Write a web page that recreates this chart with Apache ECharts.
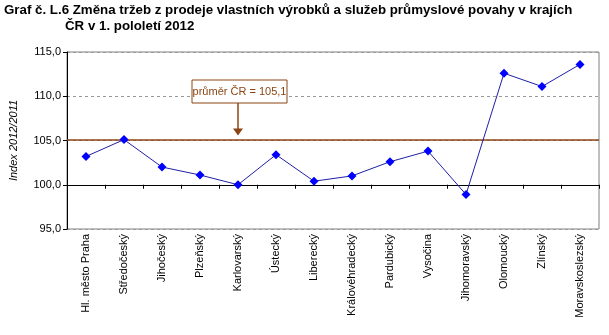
<!DOCTYPE html>
<html>
<head>
<meta charset="utf-8">
<script src="https://cdn.jsdelivr.net/npm/echarts@6/dist/echarts.min.js"></script>
<style>
  html, body { margin: 0; padding: 0; background: #fff; }
  #chart { width: 609px; height: 335px; }
</style>
</head>
<body>
<div id="chart"></div>
<script>
// Regions of the Czech Republic
const regions = [
  'Hl. město Praha', 'Středočeský', 'Jihočeský', 'Plzeňský', 'Karlovarský',
  'Ústecký', 'Liberecký', 'Královéhradecký', 'Pardubický', 'Vysočina',
  'Jihomoravský', 'Olomoucký', 'Zlínský', 'Moravskoslezský'
];
// Index of revenues 2012/2011
const indexValues = [103.2, 105.1, 102.0, 101.1, 100.0, 103.4, 100.4, 101.0, 102.6, 103.8, 98.9, 112.6, 111.1, 113.6];
// Country average
const averageCR = 105.1;
const averageLabel = 'průměr ČR = 105,1';
const averageArrowCategory = 'Karlovarský';
// Value axis
const yMin = 95, yMax = 115, yStep = 5, axisBase = 100;
// Title lines
const titleLine1 = 'Graf č. L.6 Změna tržeb z prodeje vlastních výrobků a služeb průmyslové povahy v krajích';
const titleLine2 = 'ČR v 1. pololetí 2012';

const FONT = '"Liberation Sans", Arial, sans-serif';
const gridTop = 52, gridBottom = 106, gridLeft = 67, gridRight = 10;
const gridH = 335 - gridTop - gridBottom;
const axisOffset = gridH * (axisBase - yMin) / (yMax - yMin);

const titleStyle = {
  fontFamily: '"Liberation Sans Narrow", "Arial Narrow", "Liberation Sans", sans-serif',
  fontWeight: 'bold', fontSize: 13.3, color: '#000'
};

const chart = echarts.init(document.getElementById('chart'), null, { renderer: 'canvas' });

const option = {
  animation: false,
  backgroundColor: '#fff',
  title: [
    { text: titleLine1, left: 4, top: 4, padding: 0, textStyle: titleStyle },
    { text: titleLine2, left: 65, top: 20, padding: 0, textStyle: titleStyle }
  ],
  grid: {
    left: gridLeft, right: gridRight, top: gridTop, bottom: gridBottom,
    show: true, borderColor: '#808080', borderWidth: 1, backgroundColor: '#fff'
  },
  xAxis: {
    type: 'category',
    data: regions,
    boundaryGap: true,
    position: 'bottom',
    offset: -axisOffset,
    axisLine: { show: true, onZero: false, lineStyle: { color: '#000', width: 1 } },
    axisTick: { show: true, length: 4, inside: false, lineStyle: { color: '#000' } },
    axisLabel: {
      rotate: 90, interval: 0, margin: axisOffset + 5,
      fontFamily: FONT, fontSize: 11, color: '#000'
    }
  },
  yAxis: {
    type: 'value',
    min: yMin, max: yMax, interval: yStep,
    name: 'Index 2012/2011',
    nameLocation: 'middle',
    nameGap: 48,
    nameTextStyle: { fontFamily: FONT, fontSize: 11, fontStyle: 'italic', color: '#000' },
    axisLine: { show: true, lineStyle: { color: '#000' } },
    axisTick: { show: true, length: 4, lineStyle: { color: '#000' } },
    axisLabel: {
      fontFamily: FONT, fontSize: 11, color: '#000', margin: 6,
      formatter: v => v.toFixed(1).replace('.', ',')
    },
    splitLine: {
      show: true,
      lineStyle: { color: '#999', type: [3, 3], width: 1 }
    }
  },
  series: [{
    type: 'line',
    data: indexValues,
    symbol: 'diamond',
    symbolSize: 9,
    showAllSymbol: true,
    lineStyle: { color: '#1f1fa8', width: 1 },
    itemStyle: { color: '#0000ff' },
    z: 5,
    markLine: {
      silent: true,
      symbol: 'none',
      label: { show: false },
      lineStyle: { color: '#8b4513', type: 'solid', width: 1.5 },
      data: [{ yAxis: averageCR }],
      z: 3
    }
  }]
};
chart.setOption(option);

// Annotation box with arrow pointing to the average line
const arrowIdx = regions.indexOf(averageArrowCategory);
const tip = chart.convertToPixel({ seriesIndex: 0 }, [arrowIdx, averageCR]);
const boxW = 95, boxH = 23;
const boxX = tip[0] - 46, boxY = 80;
chart.setOption({
  graphic: [
    {
      type: 'rect', z: 20,
      shape: { x: boxX, y: boxY, width: boxW, height: boxH },
      style: { fill: '#fff', stroke: '#8b4513', lineWidth: 1 }
    },
    {
      type: 'text', z: 21,
      x: boxX + boxW / 2, y: boxY + boxH / 2,
      style: {
        text: averageLabel, fill: '#8b4513', font: '11px "Liberation Sans", Arial, sans-serif',
        align: 'center', verticalAlign: 'middle'
      }
    },
    {
      type: 'line', z: 20,
      shape: { x1: tip[0], y1: boxY + boxH, x2: tip[0], y2: tip[1] - 10 },
      style: { stroke: '#8b4513', lineWidth: 1.5 }
    },
    {
      type: 'polygon', z: 20,
      shape: { points: [[tip[0] - 5, tip[1] - 11], [tip[0] + 5, tip[1] - 11], [tip[0], tip[1] - 4]] },
      style: { fill: '#8b4513' }
    }
  ]
});
</script>
</body>
</html>
